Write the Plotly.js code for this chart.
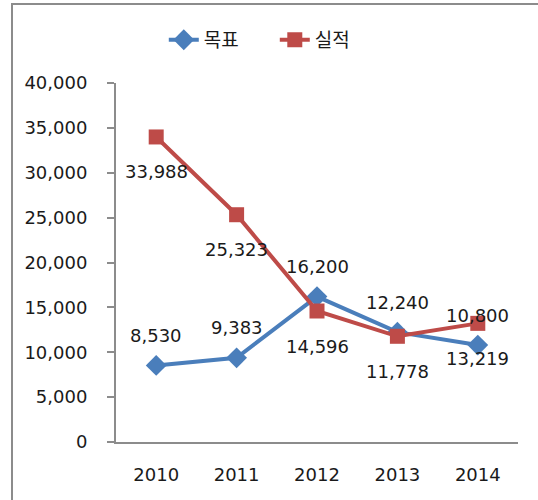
<!DOCTYPE html>
<html>
<head>
<meta charset="utf-8">
<script src="https://cdn.plot.ly/plotly-3.0.1.min.js"></script>
<style>
  body { margin: 0; background: #fff; }
  #plot {
    position: absolute; left: 11px; top: 3px;
    width: 525px; height: 495px;
    border-top: 2px solid #8c8c8c; border-left: 2px solid #8c8c8c;
    border-bottom: 1px solid #e4e4e4;
  }
</style>
</head>
<body>
<div id="plot"></div>
<script>
// years and the two series
var years = ["2010", "2011", "2012", "2013", "2014"];
var target = [8530, 9383, 16200, 12240, 10800];   // 목표
var actual = [33988, 25323, 14596, 11778, 13219]; // 실적

var fontFam = "DejaVu Sans, Verdana, Noto Sans CJK KR, sans-serif";

function fmt(v) {
  return String(v).replace(/\B(?=(\d{3})+(?!\d))/g, ",");
}

var trace1 = {
  x: years,
  y: target,
  mode: "lines+markers",
  type: "scatter",
  name: "목표",
  line: { color: "#4a7ebb", width: 4 },
  marker: { color: "#4a7ebb", symbol: "diamond", size: 16 }
};

var trace2 = {
  x: years,
  y: actual,
  mode: "lines+markers",
  type: "scatter",
  name: "실적",
  line: { color: "#be4b48", width: 4 },
  marker: { color: "#be4b48", symbol: "square", size: 15 }
};

// data labels: 목표 above the point, 실적 below
var notes = [];
for (var i = 0; i < years.length; i++) {
  notes.push({ xref: "x", yref: "y", x: i, y: target[i], text: fmt(target[i]),
    showarrow: false, yshift: 30, font: { size: 18, color: "#1a1a1a" } });
  notes.push({ xref: "x", yref: "y", x: i, y: actual[i], text: fmt(actual[i]),
    showarrow: false, yshift: -35, font: { size: 18, color: "#1a1a1a" } });
}

var layout = {
  width: 525,
  height: 495,
  margin: { l: 103, r: 20, t: 78, b: 58 },
  paper_bgcolor: "#fff",
  plot_bgcolor: "#fff",
  font: { family: fontFam, size: 18, color: "#1a1a1a" },
  showlegend: true,
  legend: {
    orientation: "h",
    x: 0.395, xanchor: "center",
    y: 1.12, yanchor: "middle",
    entrywidth: 66,
    font: { family: "Noto Sans CJK KR, sans-serif", size: 19, color: "#1a1a1a" },
    traceorder: "normal"
  },
  xaxis: {
    type: "category",
    range: [-0.5, 4.5],
    showline: true, linecolor: "#8c8c8c", linewidth: 2,
    showgrid: false, zeroline: false,
    ticks: "",
    ticklabelstandoff: 15,
    tickfont: { size: 18 }
  },
  yaxis: {
    range: [0, 40000],
    dtick: 5000,
    tickformat: ",d",
    showline: true, linecolor: "#8c8c8c", linewidth: 2,
    showgrid: false, zeroline: false,
    ticks: "outside", ticklen: 7, tickcolor: "#8c8c8c", tickwidth: 2,
    ticklabelstandoff: 16,
    tickfont: { size: 18 }
  },
  annotations: notes
};

Plotly.newPlot("plot", [trace1, trace2], layout, { displayModeBar: false });
</script>
</body>
</html>
